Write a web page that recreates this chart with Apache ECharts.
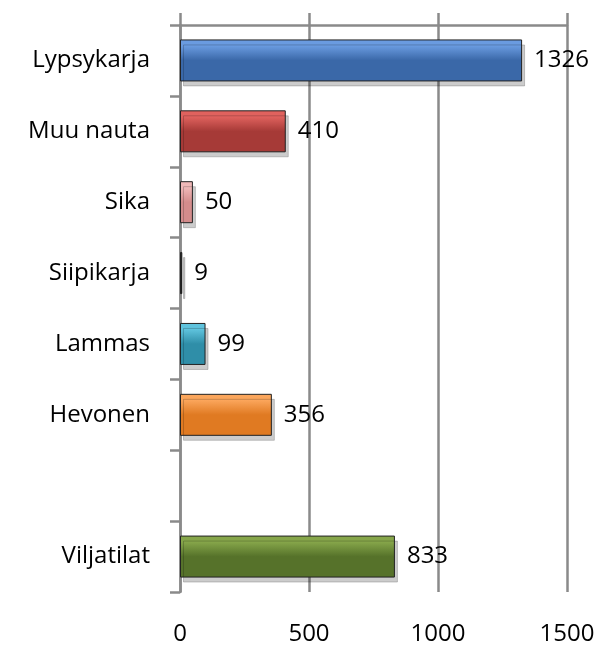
<!DOCTYPE html>
<html>
<head>
<meta charset="utf-8">
<script src="https://cdn.jsdelivr.net/npm/echarts@6/dist/echarts.min.js"></script>
<style>
  html, body { margin: 0; padding: 0; background: #fff; }
  #chart { width: 603px; height: 646px; }
</style>
</head>
<body>
<div id="chart"></div>
<script>
// kategoriat ylhäältä alas, tyhjä rivi ennen viljatiloja
const categories = ['Lypsykarja', 'Muu nauta', 'Sika', 'Siipikarja', 'Lammas', 'Hevonen', '', 'Viljatilat'];
const values = [1326, 410, 50, 9, 99, 356, null, 833];
// [yläväri, alaväri] palkeittain
const barColors = [
  ['#6a9be0', '#3a68a8'],
  ['#e0625e', '#a63a37'],
  ['#f0b8b8', '#d48c8c'],
  ['#202020', '#000000'],
  ['#5fc3dd', '#2f8ea8'],
  ['#fba65c', '#e07a22'],
  ['#ffffff', '#ffffff'],
  ['#86a64a', '#56722a']
];
const xTicks = [0, 500, 1000, 1500];

const gray = '#8a8a8a';
const font = '"Open Sans", Lato, sans-serif';

const chart = echarts.init(document.getElementById('chart'));

const seriesData = values.map((v, i) => ({
  value: v === null ? '-' : v,
  itemStyle: {
    color: new echarts.graphic.LinearGradient(0, 0, 0, 1, [
      { offset: 0, color: barColors[i][0] },
      { offset: 0.15, color: barColors[i][0] },
      { offset: 0.5, color: barColors[i][1] },
      { offset: 1, color: barColors[i][1] }
    ]),
    borderColor: '#222',
    borderWidth: 1,
    shadowColor: 'rgba(0,0,0,0.2)',
    shadowOffsetX: 3,
    shadowOffsetY: 5
  }
}));

chart.setOption({
  animation: false,
  grid: { left: 180, right: 36, top: 25, bottom: 54, containLabel: false },
  xAxis: [
    {
      type: 'value',
      position: 'bottom',
      min: xTicks[0],
      max: xTicks[xTicks.length - 1],
      interval: 500,
      axisLine: { show: false },
      axisTick: { show: false },
      axisLabel: { fontSize: 24, color: '#000', margin: 30, fontFamily: font, formatter: v => String(v) },
      splitLine: { show: true, lineStyle: { color: gray, width: 2.5 } }
    },
    {
      type: 'value',
      position: 'top',
      min: xTicks[0],
      max: xTicks[xTicks.length - 1],
      interval: 500,
      axisLine: { show: true, lineStyle: { color: gray, width: 2.5 } },
      axisTick: { show: true, length: 12, lineStyle: { color: gray, width: 2.5 } },
      axisLabel: { show: false },
      splitLine: { show: false }
    }
  ],
  yAxis: {
    type: 'category',
    inverse: true,
    data: categories,
    axisLine: { show: true, lineStyle: { color: gray, width: 2.5 } },
    axisTick: { show: true, length: 10, lineStyle: { color: gray, width: 2.5 } },
    axisLabel: { fontSize: 24, color: '#000', margin: 30, fontFamily: font }
  },
  series: [{
    type: 'bar',
    xAxisIndex: 0,
    data: seriesData,
    barWidth: 42,
    label: {
      show: true,
      position: 'right',
      distance: 12,
      fontSize: 24,
      color: '#000',
      fontFamily: font
    }
  }]
});
</script>
</body>
</html>
